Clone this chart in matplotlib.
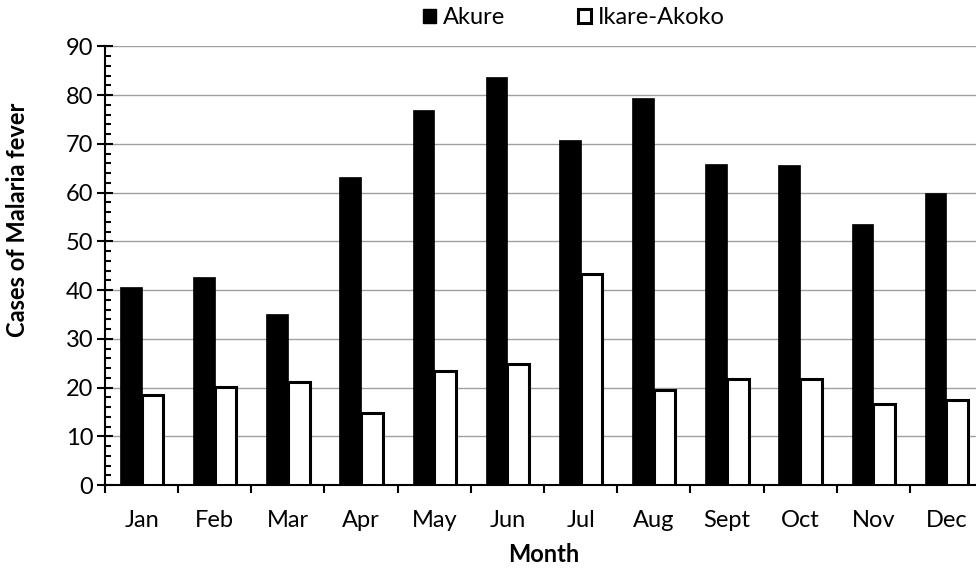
import matplotlib
matplotlib.use("Agg")
import matplotlib.pyplot as plt
import numpy as np
from matplotlib.patches import Patch
from matplotlib.ticker import MultipleLocator, FixedLocator, NullFormatter

months = ["Jan", "Feb", "Mar", "Apr", "May", "Jun", "Jul", "Aug", "Sept", "Oct", "Nov", "Dec"]
akure = [40.7, 42.6, 35.1, 63.1, 76.9, 83.6, 70.7, 79.3, 65.9, 65.7, 53.5, 60.0]
ikare = [18.5, 20.2, 21.1, 14.8, 23.4, 24.8, 43.3, 19.5, 21.8, 21.8, 16.6, 17.4]

plt.rcParams['font.family'] = ['Lato', 'DejaVu Sans']

fig = plt.figure(figsize=(9.76, 5.68), dpi=100)
ax = fig.add_axes([105/976, 83/568, 878/976, 438.7/568])

x = np.arange(len(months))
w = 0.296
ax.bar(x - w/2, akure, w, color='black', edgecolor='black', linewidth=0.5, zorder=3)
ax.bar(x + w/2, ikare, w, color='white', edgecolor='black', linewidth=2.2, zorder=3)

ax.set_ylim(0, 90)
ax.set_xlim(-0.5, len(months) - 0.5)
ax.yaxis.set_major_locator(MultipleLocator(10))
ax.yaxis.set_minor_locator(MultipleLocator(2))
ax.grid(axis='y', which='major', color='#a0a0a0', linewidth=1.0, zorder=0)
ax.set_axisbelow(True)

for s in ['top', 'right']:
    ax.spines[s].set_visible(False)
ax.spines['left'].set_linewidth(1.5)
ax.spines['bottom'].set_linewidth(1.5)

ax.tick_params(axis='y', which='major', direction='inout', length=11, width=1.5, labelsize=17, pad=3)
ax.tick_params(axis='y', which='minor', direction='in', length=4.5, width=1.5)

# x: boundary ticks (major), labels at centers (minor)
ax.xaxis.set_major_locator(FixedLocator(np.arange(-0.5, len(months), 1.0)))
ax.xaxis.set_major_formatter(NullFormatter())
ax.xaxis.set_minor_locator(FixedLocator(x))
ax.set_xticklabels(months, minor=True)
ax.tick_params(axis='x', which='major', direction='out', length=6, width=1.5)
ax.tick_params(axis='x', which='minor', length=0, labelsize=17, pad=18)

fig.text(18/976, 1 - 220/568, "Cases of Malaria fever", fontsize=17, fontweight='bold',
         rotation=90, ha='center', va='center')
fig.text(544/976, 1 - 554/568, "Month", fontsize=17, fontweight='bold', ha='center', va='center')

handles = [Patch(facecolor='black', edgecolor='black', linewidth=1.0, label='Akure'),
           Patch(facecolor='white', edgecolor='black', linewidth=2.2, label='Ikare-Akoko')]
fig.legend(handles=handles, loc='center', bbox_to_anchor=(574/976, 1 - 18/568), ncol=2,
           frameon=False, fontsize=17, handlelength=0.55, handleheight=0.55,
           handletextpad=0.3, columnspacing=3.1)

fig.savefig("out.png", dpi=100)
